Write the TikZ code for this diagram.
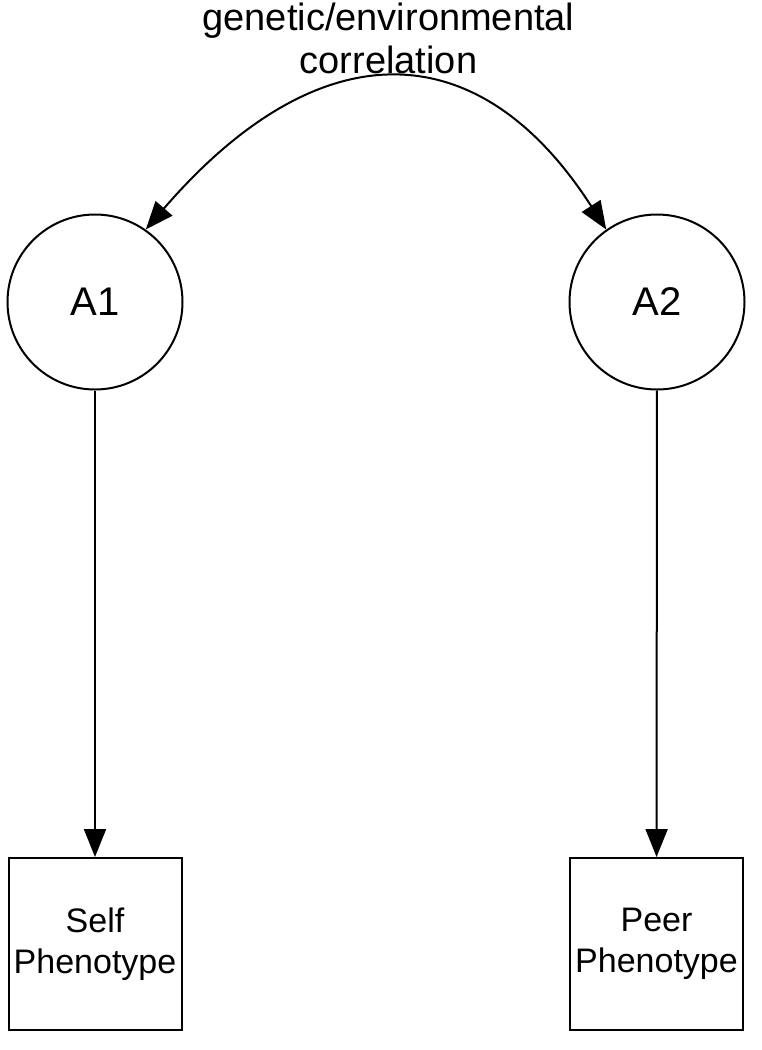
\documentclass[tikz,border=0pt]{standalone}
\usepackage{fontspec}
\setmainfont{Liberation Sans}
\usetikzlibrary{arrows.meta}
\begin{document}
\begin{tikzpicture}[x=1pt,y=-1pt,
  latent/.style={draw,circle,line width=2pt,minimum size=175pt,inner sep=0pt,font=\fontsize{40}{44}\selectfont},
  observed/.style={draw,rectangle,line width=2pt,minimum width=173pt,minimum height=172pt,inner sep=0pt,align=center,font=\fontsize{34}{41}\selectfont},
  conn/.style={line width=2pt,-{Triangle[width=22pt,length=28pt]}},
  corr/.style={line width=2pt,{Triangle[width=22pt,length=28pt]}-{Triangle[width=22pt,length=28pt]}}]
\useasboundingbox (0,0) rectangle (762,1050);
\node[latent] (A1) at (95,302) {\raisebox{-4pt}{A1}};
\node[latent] (A2) at (657,302) {\raisebox{-4pt}{A2}};
\node[observed] (S) at (95,944) {Self\\Phenotype};
\node[observed] (P) at (656.5,944) {Peer\\Phenotype};
\node[align=center,inner sep=0pt,font=\fontsize{38}{43}\selectfont] (lab) at (388.5,38) {genetic/environmental\\correlation};
\draw[conn] (A1) -- (S);
\draw[conn] (A2) -- (P);
\draw[corr] (A1.55) .. controls (318,30) and (478,30) .. (A2.125);
\end{tikzpicture}
\end{document}
